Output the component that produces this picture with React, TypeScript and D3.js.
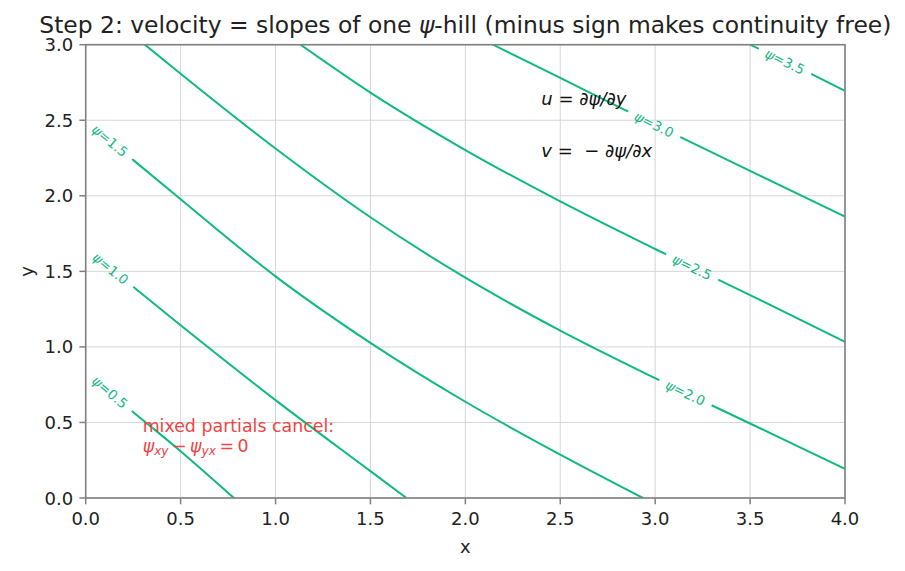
import React, { useEffect, useRef } from "react";
import * as d3 from "d3";

// contour levels of psi and the traced level curves (x, y in data units)
const levels = [0.5, 1.0, 1.5, 2.0, 2.5, 3.0, 3.5];
const psi05 = [[0, 0.84], [0.237, 0.583], [0.5, 0.31], [0.781, 0]];
const psi10 = [[0, 1.655], [0.237, 1.411], [0.5, 1.143], [1.0, 0.648], [1.5, 0.178], [1.69, 0]];
const psi15 = [[0, 2.5], [0.237, 2.251], [0.5, 1.977], [1.0, 1.467], [1.5, 1.027], [2.0, 0.637], [2.5, 0.287], [2.936, 0]];
const psi20 = [[0.312, 3], [0.5, 2.808], [1.0, 2.313], [1.5, 1.858], [2.0, 1.458], [2.5, 1.108], [3.0, 0.793], [3.5, 0.493], [4.0, 0.193]];
const psi25 = [[1.132, 3], [1.5, 2.683], [2.0, 2.303], [2.5, 1.963], [3.0, 1.648], [3.5, 1.343], [4.0, 1.033]];
const psi30 = [[2.146, 3], [2.5, 2.78], [3.0, 2.47], [3.5, 2.165], [4.0, 1.863]];
const psi35 = [[3.5, 3], [3.814, 2.812], [4.0, 2.695]];
const contourLines = [psi05, psi10, psi15, psi20, psi25, psi30, psi35];
// where along each curve the inline label sits
const labelX = [0.128, 0.132, 0.128, 3.16, 3.195, 2.995, 3.684];

const xTicks = [0, 0.5, 1.0, 1.5, 2.0, 2.5, 3.0, 3.5, 4.0];
const yTicks = [0, 0.5, 1.0, 1.5, 2.0, 2.5, 3.0];

const GREEN = "#10b981";
const RED = "#ef4444";
const FONT = "DejaVu Sans";
const THIN = "\u2009";

const App = () => {
  const ref = useRef<SVGSVGElement>(null);

  useEffect(() => {
    const width = 905, height = 571;
    const left = 85.7, right = 845, top = 44.7, bottom = 498;

    const svg = d3.select(ref.current);
    svg.selectAll("*").remove();
    svg.attr("width", width).attr("height", height)
      .style("font-family", FONT);

    svg.append("rect").attr("width", width).attr("height", height).attr("fill", "#fff");

    const x = d3.scaleLinear().domain([0, 4]).range([left, right]);
    const y = d3.scaleLinear().domain([0, 3]).range([bottom, top]);

    const defs = svg.append("defs");
    defs.append("clipPath").attr("id", "plotArea")
      .append("rect")
      .attr("x", left).attr("y", top)
      .attr("width", right - left).attr("height", bottom - top);

    // grid
    const grid = svg.append("g").attr("stroke", "#d6d6d6").attr("stroke-width", 1);
    xTicks.forEach(t => {
      grid.append("line").attr("x1", x(t)).attr("x2", x(t)).attr("y1", top).attr("y2", bottom);
    });
    yTicks.forEach(t => {
      grid.append("line").attr("x1", left).attr("x2", right).attr("y1", y(t)).attr("y2", y(t));
    });

    const line = d3.line<number[]>()
      .x(d => x(d[0]))
      .y(d => y(d[1]))
      .curve(d3.curveMonotoneX);

    // label position + angle from the polyline segment under labelX
    const labelAt = (pts: number[][], lx: number) => {
      let i = 0;
      while (i < pts.length - 2 && pts[i + 1][0] < lx) i++;
      const a = pts[i], b = pts[i + 1];
      const t = (lx - a[0]) / (b[0] - a[0]);
      const ly = a[1] + t * (b[1] - a[1]);
      const ang = Math.atan2(y(b[1]) - y(a[1]), x(b[0]) - x(a[0])) * 180 / Math.PI;
      return { px: x(lx), py: y(ly), ang };
    };

    const contours = svg.append("g").attr("clip-path", "url(#plotArea)");
    const labels = svg.append("g");

    contourLines.forEach((pts, i) => {
      const lab = labelAt(pts, labelX[i]);
      // labels next to the left spine swallow the short stub up to the edge
      const extra = lab.px - left < 40 ? 24 : 0;
      const mask = defs.append("mask").attr("id", `gap${i}`)
        .attr("maskUnits", "userSpaceOnUse")
        .attr("x", 0).attr("y", 0).attr("width", width).attr("height", height);
      mask.append("rect").attr("width", width).attr("height", height).attr("fill", "#fff");
      mask.append("rect")
        .attr("x", -29 - extra).attr("y", -9).attr("width", 58 + extra).attr("height", 18)
        .attr("fill", "#000")
        .attr("transform", `translate(${lab.px},${lab.py}) rotate(${lab.ang})`);

      contours.append("path")
        .attr("d", line(pts))
        .attr("fill", "none")
        .attr("stroke", GREEN)
        .attr("stroke-width", 2)
        .attr("mask", `url(#gap${i})`);

      const txt = labels.append("text")
        .attr("transform", `translate(${lab.px},${lab.py}) rotate(${lab.ang})`)
        .attr("text-anchor", "middle")
        .attr("dominant-baseline", "central")
        .attr("font-size", 13.5)
        .attr("fill", GREEN);
      txt.append("tspan").attr("font-style", "italic").text("ψ");
      txt.append("tspan").text("=" + levels[i].toFixed(1));
    });

    // annotations
    const uText = svg.append("text")
      .attr("x", x(2.4)).attr("y", y(2.6))
      .attr("font-size", 18).attr("fill", "#111");
    uText.append("tspan").attr("font-style", "italic").text("u");
    uText.append("tspan").text(" = ");
    uText.append("tspan").attr("font-style", "italic").text("∂ψ/∂y");

    const vText = svg.append("text")
      .attr("x", x(2.4)).attr("y", y(2.255))
      .attr("font-size", 18).attr("fill", "#111")
      .style("white-space", "pre");
    vText.append("tspan").attr("font-style", "italic").text("v");
    vText.append("tspan").text(" =  − ");
    vText.append("tspan").attr("font-style", "italic").text("∂ψ/∂x");

    svg.append("text")
      .attr("x", x(0.3)).attr("y", y(0.435))
      .attr("font-size", 17.4).attr("fill", RED)
      .text("mixed partials cancel:");

    const mix = svg.append("text")
      .attr("x", x(0.3)).attr("y", y(0.305))
      .attr("font-size", 17.4).attr("fill", RED);
    mix.append("tspan").attr("font-style", "italic").text("ψ");
    mix.append("tspan").attr("font-style", "italic").attr("font-size", 12.2).attr("dy", 3.5).text("xy");
    mix.append("tspan").attr("dy", -3.5).text(`${THIN}−${THIN}`);
    mix.append("tspan").attr("font-style", "italic").text("ψ");
    mix.append("tspan").attr("font-style", "italic").attr("font-size", 12.2).attr("dy", 3.5).text("yx");
    mix.append("tspan").attr("dy", -3.5).text(`${THIN}=${THIN}0`);

    // spines
    svg.append("rect")
      .attr("x", left).attr("y", top)
      .attr("width", right - left).attr("height", bottom - top)
      .attr("fill", "none").attr("stroke", "#808080").attr("stroke-width", 1.6);

    // ticks
    const tickG = svg.append("g").attr("font-size", 18).attr("fill", "#222");
    xTicks.forEach(t => {
      tickG.append("line").attr("x1", x(t)).attr("x2", x(t)).attr("y1", bottom).attr("y2", bottom + 6.3)
        .attr("stroke", "#808080").attr("stroke-width", 1.5);
      tickG.append("text").attr("x", x(t)).attr("y", 524.5).attr("text-anchor", "middle").text(t.toFixed(1));
    });
    yTicks.forEach(t => {
      tickG.append("line").attr("x1", left - 6.3).attr("x2", left).attr("y1", y(t)).attr("y2", y(t))
        .attr("stroke", "#808080").attr("stroke-width", 1.5);
      tickG.append("text").attr("x", left - 12.6).attr("y", y(t)).attr("text-anchor", "end")
        .attr("dominant-baseline", "central").text(t.toFixed(1));
    });

    // axis labels
    svg.append("text").attr("x", (left + right) / 2).attr("y", 553)
      .attr("text-anchor", "middle").attr("font-size", 18).attr("fill", "#222").text("x");
    svg.append("text")
      .attr("transform", `translate(32.9,${(top + bottom) / 2}) rotate(-90)`)
      .attr("text-anchor", "middle").attr("font-size", 18).attr("fill", "#222").text("y");

    // title
    const title = svg.append("text")
      .attr("x", (left + right) / 2).attr("y", 33.4)
      .attr("text-anchor", "middle").attr("font-size", 23.4).attr("fill", "#222");
    title.append("tspan").text("Step 2: velocity = slopes of one ");
    title.append("tspan").attr("font-style", "italic").text("ψ");
    title.append("tspan").text("-hill (minus sign makes continuity free)");
  }, []);

  return <svg ref={ref} style={{ position: "absolute", left: 0, top: 0 }} />;
};

export default App;
